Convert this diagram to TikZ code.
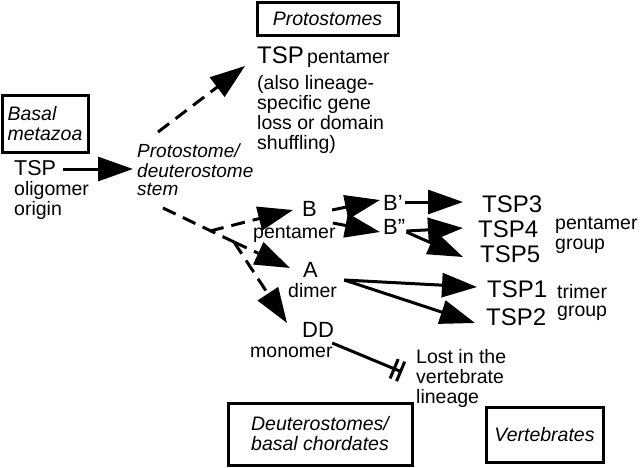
\documentclass[tikz,border=0pt]{standalone}
\usepackage{fontspec}
\setmainfont{Liberation Sans}
\usetikzlibrary{arrows.meta}
\begin{document}
\begin{tikzpicture}[x=1pt,y=-1pt,
  txt/.style={inner sep=0pt, anchor=base west, font=\fontsize{19.5}{20}\selectfont},
  itxt/.style={txt, font=\fontsize{19}{20}\selectfont\itshape},
  big/.style={inner sep=0pt, anchor=base west, font=\fontsize{24}{24}\selectfont},
  mid/.style={inner sep=0pt, anchor=base west, font=\fontsize{22}{22}\selectfont},
  boxn/.style={draw, line width=3pt, inner sep=0pt, align=left, font=\fontsize{19.5}{20}\selectfont\itshape},
  conn/.style={line width=3pt, -{Triangle[length=35pt 0 0,width=24pt 0 0]}},
  dconn/.style={conn, dash pattern=on 14pt off 8pt},
  dline/.style={line width=3pt, dash pattern=on 14pt off 8pt},
]
\useasboundingbox (0,0) rectangle (640,467);

% boxes
\node[boxn, minimum width=141pt, minimum height=33pt] (protbox) at (327.5,18.5) {Protostomes};
\node[boxn, minimum width=86pt, minimum height=57pt] (basalbox) at (45,123.5) {Basal\\metazoa};
\node[boxn, minimum width=184pt, minimum height=62pt] (deutbox) at (320,434) {Deuterostomes/\\basal chordates};
\node[boxn, minimum width=117pt, minimum height=55pt] (vertbox) at (544.5,434.5) {Vertebrates};

% protostome texts
\node[big] (tspP) at (257,63) {TSP};
\node[txt] (pentP) at (307,63) {pentamer};
\node[txt] (alsoA) at (257,89) {(also lineage-};
\node[txt] (alsoB) at (257,109) {specific gene};
\node[txt] (alsoC) at (257,129) {loss or domain};
\node[txt] (alsoD) at (257,149) {shuffling)};

% origin
\node[inner sep=0pt, anchor=base west, font=\fontsize{21.5}{22}\selectfont] (tspO) at (14,175) {TSP};
\node[txt] (olig) at (14,195) {oligomer};
\node[txt] (orig) at (14,215) {origin};

% stem
\node[itxt] (stemA) at (137,157) {Protostome/};
\node[itxt] (stemB) at (137,177) {deuterostome};
\node[itxt] (stemC) at (137,195) {stem};

% deuterostome genes
\node[mid] (Bn) at (302,216) {B};
\node[txt] (Bpent) at (253,238) {pentamer};
\node[mid] (B1) at (383,210) {B’};
\node[mid] (B2) at (383,234) {B”};
\node[mid] (An) at (303,277.5) {A};
\node[txt] (Adim) at (288,297) {dimer};
\node[mid] (DDn) at (302,337) {DD};
\node[txt] (DDmono) at (250,357) {monomer};

% vertebrate genes
\node[big] (T3) at (482,212) {TSP3};
\node[big] (T4) at (478,237) {TSP4};
\node[big] (T5) at (480,262) {TSP5};
\node[txt] (pg1) at (555,229) {pentamer};
\node[txt] (pg2) at (555,249) {group};
\node[big] (T1) at (487,297) {TSP1};
\node[big] (T2) at (486,325) {TSP2};
\node[txt] (tg1) at (557,298) {trimer};
\node[txt] (tg2) at (557,316) {group};
\node[txt] (lost1) at (416,363) {Lost in the};
\node[txt] (lost2) at (416,383) {vertebrate};
\node[txt] (lost3) at (416,403) {lineage};

% junction / free-end coordinates
\coordinate (stemTop) at (158,132);
\coordinate (protTip) at (245,66);
\coordinate (s1) at (163,208);
\coordinate (j1) at (210,231);
\coordinate (j2) at (234,242);
\coordinate (Btip) at (293,210);
\coordinate (Atip) at (290,268);
\coordinate (DDtip) at (287,323);

% connectors
\draw[conn] ([xshift=7pt]tspO.east |- 0,169) -- ([xshift=-4pt]stemA.west |- 0,169);
\draw[dconn] (stemTop) -- (protTip);
\draw[dline] (s1) -- (j2);
\draw[dconn] (j1) -- (Btip);
\draw[dconn] (j2) -- (Atip);
\draw[dconn] (j2) -- (DDtip);

\draw[conn] ([xshift=15pt]Bn.base east |- 0,210) -- ([xshift=-3pt]B1.west |- 0,200);
\draw[conn] ([xshift=-3pt]Bpent.east |- 0,223) -- ([xshift=-3pt]B2.west |- 0,232);
\draw[conn] ([xshift=2pt]B1.east |- 0,202) -- ([xshift=-19pt]T3.west |- 0,202);
\draw[conn] ([xshift=1pt]B2.east |- 0,231) -- ([xshift=-15pt]T4.west |- 0,228);
\draw[conn] ([xshift=1pt]B2.east |- 0,232) -- ([xshift=-17pt]T5.west |- 0,257);
\draw[conn] ([xshift=7pt]Adim.east |- 0,280) -- ([xshift=-10pt]T1.west |- 0,287);
\draw[conn] ([xshift=7pt]Adim.east |- 0,280) -- ([xshift=-11pt]T2.west |- 0,323);
\draw[line width=3pt, -{Bar[width=21pt,sep=4pt]Bar[width=21pt]}] ([xshift=-2pt]DDn.east |- 0,343) -- ([xshift=-14pt]lost1.west |- 0,372);

\end{tikzpicture}
\end{document}
